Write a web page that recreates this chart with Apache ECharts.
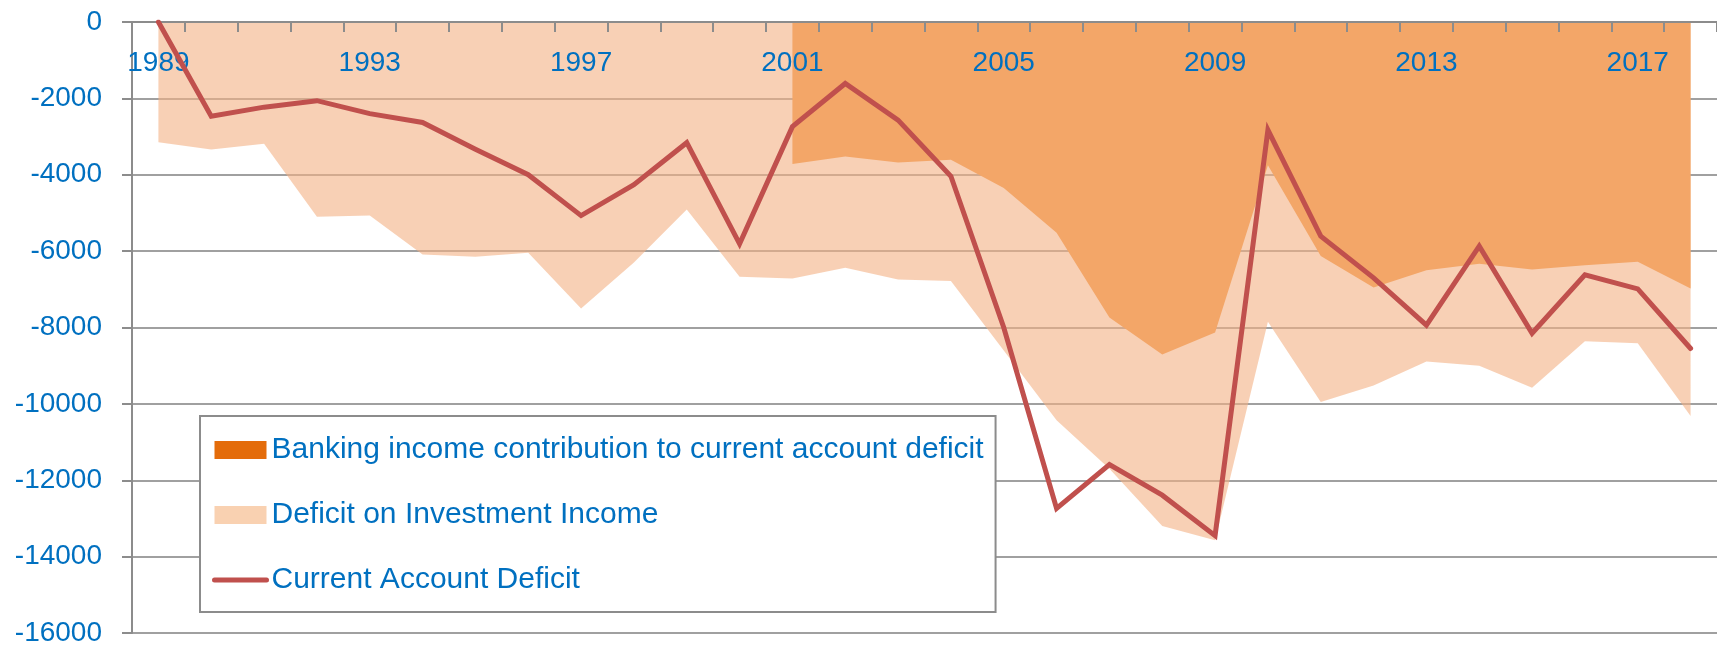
<!DOCTYPE html>
<html>
<head>
<meta charset="utf-8">
<script src="https://cdn.jsdelivr.net/npm/echarts@6/dist/echarts.min.js"></script>
<style>
    html, body { margin: 0; padding: 0; background: #fff; }
    #chart { width: 1717px; height: 647px; }
</style>
</head>
<body>
<div id="chart"></div>
<script>
// years on the x axis
const years = ['1989', '1990', '1991', '1992', '1993', '1994', '1995', '1996', '1997', '1998',
    '1999', '2000', '2001', '2002', '2003', '2004', '2005', '2006', '2007', '2008',
    '2009', '2010', '2011', '2012', '2013', '2014', '2015', '2016', '2017', '2018'];

// Banking income contribution (only from 2001)
const bankingIncome = [null, null, null, null, null, null, null, null, null, null, null, null,
    -3720, -3520, -3680, -3610, -4350, -5520, -7740, -8710, -8130, -3750,
    -6130, -6950, -6500, -6330, -6480, -6370, -6280, -6980];

// Deficit on investment income
const investmentIncome = [-3150, -3340, -3190, -5100, -5070, -6090, -6150, -6040, -7500, -6300,
    -4910, -6670, -6720, -6435, -6740, -6780, -8600, -10430, -11700, -13200,
    -13570, -7850, -9950, -9520, -8890, -9000, -9580, -8360, -8410, -10320];

// Current account deficit
const currentAccount = [0, -2470, -2230, -2060, -2400, -2630, -3330, -4000, -5070, -4260,
    -3160, -5810, -2740, -1610, -2570, -4040, -8000, -12740, -11590, -12390,
    -13450, -2830, -5610, -6700, -7940, -5870, -8150, -6620, -6990, -8550];

const names = ['Banking income contribution to current account deficit', 'Deficit on Investment Income', 'Current Account Deficit'];

const blue = '#0070C0';
const font = 'Liberation Sans';

let myChart = echarts.init(document.getElementById('chart'), null, { renderer: 'canvas' });

let option = {
    backgroundColor: '#fff',
    animation: false,
    grid: { left: 132, right: -10, top: 22, bottom: 13 },
    xAxis: {
        type: 'category',
        position: 'top',
        data: years,
        boundaryGap: true,
        z: 4,
        axisLine: { lineStyle: { color: '#8c8c8c', width: 2 } },
        axisTick: { show: true, inside: true, length: 10, interval: 0, lineStyle: { color: '#8c8c8c', width: 2 } },
        axisLabel: { inside: true, interval: 3, margin: 27, color: blue, fontSize: 28, fontFamily: font },
        splitLine: { show: false }
    },
    yAxis: {
        type: 'value',
        min: -16000,
        max: 0,
        interval: 2000,
        axisLine: { show: true, lineStyle: { color: '#8c8c8c', width: 2 } },
        axisTick: { show: true, length: 10, lineStyle: { color: '#8c8c8c', width: 2 } },
        axisLabel: {
            margin: 30, color: blue, fontSize: 28, fontFamily: font,
            formatter: function (v) { return String(v); }
        },
        splitLine: { lineStyle: { color: '#a0a0a0', width: 2 } }
    },
    legend: {
        orient: 'vertical',
        left: 200,
        top: 416,
        padding: [19, 12, 17, 12],
        itemGap: 35,
        itemWidth: 52,
        itemHeight: 18,
        backgroundColor: '#fff',
        borderColor: '#8c8c8c',
        borderWidth: 2,
        textStyle: { color: blue, fontSize: 30, fontFamily: font },
        data: [
            { name: names[0], icon: 'rect', itemStyle: { color: '#E46C0A', borderWidth: 0, opacity: 1 } },
            { name: names[1], icon: 'rect', itemStyle: { color: '#F9D1B1', borderWidth: 0, opacity: 1 } },
            {
                name: names[2],
                itemStyle: { opacity: 0 },
                lineStyle: { color: '#C0504D', width: 5, cap: 'round' }
            }
        ]
    },
    series: [
        {
            name: names[1],
            type: 'line',
            data: investmentIncome,
            symbol: 'none',
            lineStyle: { width: 0 },
            itemStyle: { color: '#F9D1B1' },
            areaStyle: { color: 'rgba(244,177,131,0.6)', opacity: 1 },
            z: 2
        },
        {
            name: names[0],
            type: 'line',
            data: bankingIncome,
            symbol: 'none',
            lineStyle: { width: 0 },
            itemStyle: { color: '#E46C0A' },
            areaStyle: { color: '#F3A668', opacity: 1 },
            z: 3
        },
        {
            name: names[2],
            type: 'line',
            data: currentAccount,
            symbol: 'none',
            lineStyle: { color: '#C0504D', width: 5, cap: 'round', join: 'miter' },
            itemStyle: { color: '#C0504D' },
            z: 5
        }
    ]
};

option && myChart.setOption(option);
</script>
</body>
</html>
